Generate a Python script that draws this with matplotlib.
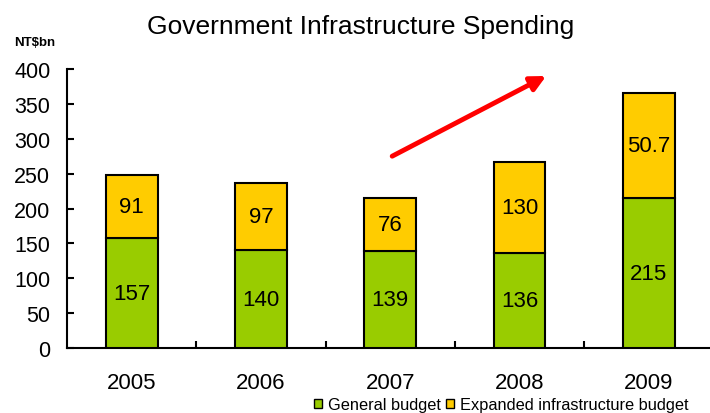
import matplotlib
matplotlib.use("Agg")
import matplotlib.pyplot as plt
from matplotlib.patches import Rectangle

years = ["2005", "2006", "2007", "2008", "2009"]
general = [157, 140, 139, 136, 215]
expanded = [91, 97, 76, 130, 150.7]
general_labels = ["157", "140", "139", "136", "215"]
expanded_labels = ["91", "97", "76", "130", "50.7"]
yticks = [0, 50, 100, 150, 200, 250, 300, 350, 400]
title = "Government Infrastructure Spending"
unit = "NT$bn"
legend_labels = ["General budget", "Expanded infrastructure budget"]

GREEN = "#99CC00"
YELLOW = "#FFCC00"

plt.rcParams['font.family'] = ['Liberation Sans', 'DejaVu Sans']

fig = plt.figure(figsize=(7.1, 4.14), dpi=100)
ax = fig.add_axes([67/710, 65/414, 646.5/710, 279/414])

x = list(range(len(years)))
w = 0.40
ax.bar(x, general, width=w, color=GREEN, edgecolor="black", linewidth=1.5, zorder=3)
ax.bar(x, expanded, width=w, bottom=general, color=YELLOW, edgecolor="black", linewidth=1.5, zorder=3)

for i in x:
    ax.text(i, general[i] / 2, general_labels[i], ha="center", va="center", fontsize=16, zorder=4)
    ax.text(i, general[i] + expanded[i] / 2, expanded_labels[i], ha="center", va="center", fontsize=16, zorder=4)

ax.set_xlim(-0.5, len(years) - 0.5)
ax.set_ylim(0, 400)
ax.set_yticks(yticks)
ax.set_yticklabels([str(v) for v in yticks], fontsize=15.5)
ax.set_xticks(x)
ax.set_xticklabels(years, fontsize=16)
ax.set_xticks([i + 0.5 for i in x[:-1]], minor=True)
ax.tick_params(axis="x", which="major", length=0, pad=17)
ax.tick_params(axis="x", which="minor", direction="in", length=5, width=1.5)
ax.tick_params(axis="y", direction="in", length=5, width=1.5, pad=12)

for s in ["top", "right"]:
    ax.spines[s].set_visible(False)
for s in ["left", "bottom"]:
    ax.spines[s].set_linewidth(1.5)

# trend arrow
ax.annotate("", xy=(3.206, 390), xytext=(2.015, 275),
            arrowprops=dict(arrowstyle="-|>,head_length=0.9,head_width=0.45",
                            color="#FF0000", lw=3.5, shrinkA=0, shrinkB=0),
            zorder=5, annotation_clip=False)

fig.text(361/710, 1 - 27/414, title, ha="center", va="center", fontsize=19)
fig.text(14/710, 1 - 43/414, unit, ha="left", va="center", fontsize=9.5, fontweight="bold")

handles = [Rectangle((0, 0), 1, 1, facecolor=GREEN, edgecolor="black", linewidth=1),
           Rectangle((0, 0), 1, 1, facecolor=YELLOW, edgecolor="black", linewidth=1)]
leg = fig.legend(handles, legend_labels, loc="center left", bbox_to_anchor=(314/710, 1 - 406/414),
                 ncol=2, frameon=False, fontsize=11.8, handlelength=0.5, handleheight=0.5,
                 handletextpad=0.35, columnspacing=0.3, borderaxespad=0, borderpad=0)

fig.savefig("out.png", dpi=100)
